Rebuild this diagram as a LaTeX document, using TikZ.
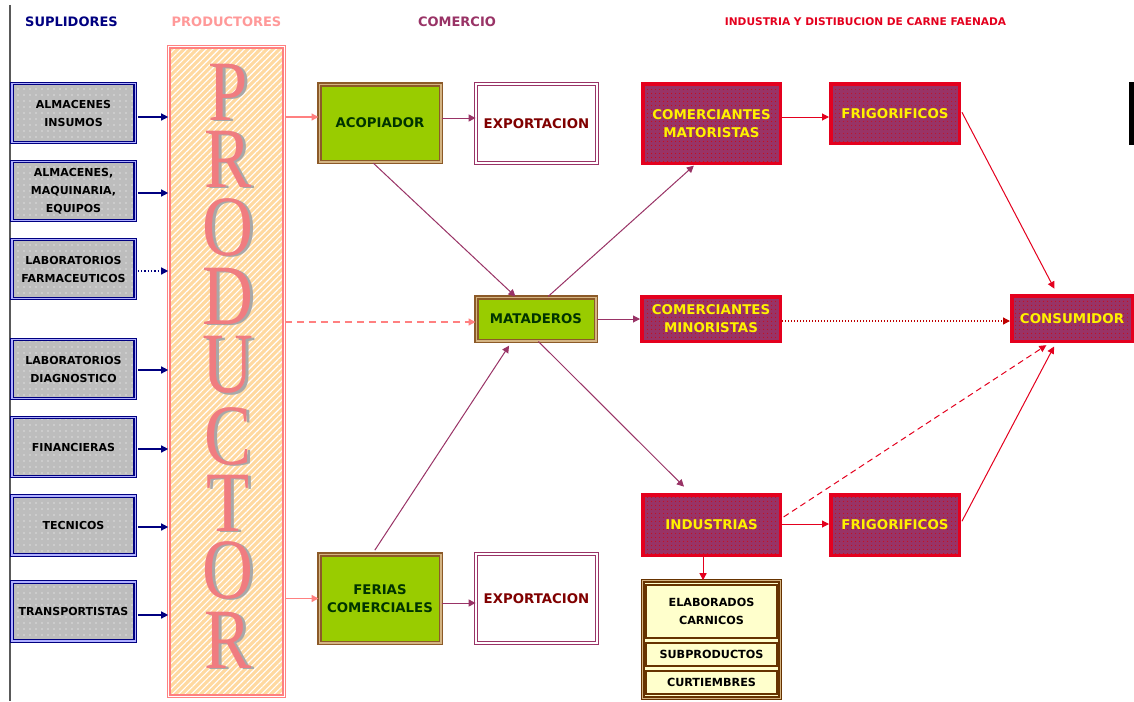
\documentclass[tikz,border=0pt]{standalone}
\usepackage{fontspec}
\setmainfont{DejaVu Sans}
\newfontfamily\serifL{Liberation Serif}
\usetikzlibrary{arrows.meta,patterns,patterns.meta,calc}
\definecolor{navy}{HTML}{000080}
\definecolor{supfill}{HTML}{BDBDBD}
\definecolor{lavb}{HTML}{B0B0FF}
\definecolor{salmon}{HTML}{FF8080}
\definecolor{peach}{HTML}{FFD9A0}
\definecolor{plum}{HTML}{993366}
\definecolor{limeg}{HTML}{99CC00}
\definecolor{brownb}{HTML}{8C5A28}
\definecolor{tanb}{HTML}{D4B483}
\definecolor{dgreen}{HTML}{003300}
\definecolor{maroonc}{HTML}{800000}
\definecolor{redb}{HTML}{E4001E}
\definecolor{cream}{HTML}{FFFFCC}
\definecolor{dbrown}{HTML}{663300}
\definecolor{pinkt}{HTML}{FF9999}
\definecolor{letpink}{HTML}{F07C80}
\definecolor{letgray}{HTML}{A8A8A8}
\newcommand{\plet}[1]{\rlap{\kern3pt\raisebox{-1.5pt}{\textcolor{letgray}{\scalebox{0.82}[1]{#1}}}}\textcolor{letpink}{\scalebox{0.82}[1]{#1}}}
\begin{document}
\begin{tikzpicture}[x=1pt,y=-1pt,
  title/.style={inner sep=0pt, font=\fontsize{13}{15}\selectfont\bfseries},
  sup/.style={draw=navy, double=lavb, double distance=1.2pt, line width=1.3pt,
    preaction={fill=supfill},
    preaction={pattern={Dots[distance=6pt,radius=0.55pt]}, pattern color=white},
    minimum width=123.2pt, minimum height=59pt, inner sep=0pt, align=center,
    font=\fontsize{11}{18}\selectfont\bfseries},
  prodbox/.style={draw=salmon, double=white, double distance=1.2pt, line width=1.2pt,
    preaction={fill=peach},
    preaction={pattern={Lines[angle=45,distance=4.5pt,line width=1.1pt]}, pattern color=white},
    minimum width=115.4pt, minimum height=649.4pt, inner sep=0pt},
  letter/.style={inner sep=0pt, font=\serifL\fontsize{86}{86}\selectfont},
  greenbox/.style={draw=brownb, double=tanb, double distance=1.5pt, line width=1.5pt,
    fill=limeg, text=dgreen, inner sep=0pt, align=center, minimum width=121.5pt,
    font=\fontsize{13.3}{18}\selectfont\bfseries},
  expbox/.style={draw=plum, double=white, double distance=2.2pt, line width=1pt,
    fill=white, text=maroonc, inner sep=0pt, align=center, minimum width=120.8pt,
    minimum height=88.8pt, font=\fontsize{13.3}{18}\selectfont\bfseries},
  redbox/.style={draw=redb, line width=3.5pt,
    preaction={fill=plum},
    preaction={pattern={Dots[distance=4pt,radius=0.6pt]}, pattern color=red!85!black},
    text=yellow, inner sep=0pt, align=center,
    font=\fontsize{13.4}{18}\selectfont\bfseries},
  prodout/.style={draw=dbrown, double=tanb, double distance=1.2pt, line width=1.2pt,
    fill=cream, inner sep=0pt},
  pinner/.style={draw=dbrown, line width=1.8pt, fill=cream, inner sep=0pt, align=center,
    minimum width=131.2pt, font=\fontsize{11.2}{18}\selectfont\bfseries},
  navyarr/.style={draw=navy, line width=1.3pt, -{Triangle[length=7pt,width=7pt]}},
  pinkarr/.style={draw=salmon, line width=1.3pt, -{Triangle[length=7pt,width=7pt]}},
  plumarr/.style={draw=plum, line width=1pt, -{Triangle[length=7pt,width=7pt]}},
  redarr/.style={draw=redb, line width=1pt, -{Triangle[length=7pt,width=7pt]}},
]
\useasboundingbox (0,0) rectangle (1134,701);
\fill[white] (0,0) rectangle (1134,701);
\draw[draw=gray!70!black, line width=2pt] (10,5) -- (10,701);

% titles
\node[title, text=navy] (tsup) at (71.5,22) {SUPLIDORES};
\node[title, text=pinkt] (tpro) at (226.5,22) {PRODUCTORES};
\node[title, text=plum] (tcom) at (457,22) {COMERCIO};
\node[title, text=redb, font=\fontsize{10.6}{13}\selectfont\bfseries] (tind) at (865.5,22) {INDUSTRIA Y DISTIBUCION DE CARNE FAENADA};

% suppliers
\node[sup] (s1) at (73.5,113) {ALMACENES\\INSUMOS};
\node[sup] (s2) at (73.5,191) {ALMACENES,\\MAQUINARIA,\\EQUIPOS};
\node[sup] (s3) at (73.5,269) {LABORATORIOS\\FARMACEUTICOS};
\node[sup] (s4) at (73.5,369) {LABORATORIOS\\DIAGNOSTICO};
\node[sup] (s5) at (73.5,447) {FINANCIERAS};
\node[sup] (s6) at (73.5,525.5) {TECNICOS};
\node[sup] (s7) at (73.5,611.5) {TRANSPORTISTAS};

% producer
\node[prodbox] (prod) at (226.5,371.5) {};
\foreach \L/\y [count=\i] in {P/93,R/160,O/228,D/297,U/366,C/437,T/504,O/571,R/641} {
  \node[letter] (l\i) at (228,\y) {\plet{\L}};
}

% commerce
\node[greenbox, minimum height=77.5pt] (acop) at (380,123) {ACOPIADOR};
\node[expbox, minimum height=78.8pt] (exp1) at (536.5,123.5) {EXPORTACION};
\node[greenbox, minimum height=43.5pt, minimum width=119.5pt] (mat) at (536,319) {MATADEROS};
\node[greenbox, minimum height=88.5pt] (fer) at (380,598.5) {FERIAS\\COMERCIALES};
\node[expbox] (exp2) at (536.5,598.5) {EXPORTACION};

% industry
\node[redbox, minimum width=137.5pt, minimum height=79.5pt] (may) at (711.5,123.5) {COMERCIANTES\\MATORISTAS};
\node[redbox, minimum width=128.5pt, minimum height=59.5pt] (frt) at (895,113.5) {FRIGORIFICOS};
\node[redbox, minimum width=138.5pt, minimum height=44.5pt] (min) at (711,319) {COMERCIANTES\\MINORISTAS};
\node[redbox, minimum width=120.5pt, minimum height=45.5pt] (cons) at (1072,318.5) {CONSUMIDOR};
\node[redbox, minimum width=137.5pt, minimum height=60.5pt] (ind) at (711.5,525) {INDUSTRIAS};
\node[redbox, minimum width=128.5pt, minimum height=60.5pt] (frb) at (895,525) {FRIGORIFICOS};
\node[fill=black, inner sep=0pt, minimum width=5pt, minimum height=63pt] (bar) at (1131.5,113.5) {};

% products
\node[prodout, minimum width=137.4pt, minimum height=117.4pt] (pbox) at (711.5,639.5) {};
\node[pinner, minimum height=53.2pt] (elab) at (711.5,611.5) {ELABORADOS\\CARNICOS};
\node[pinner, minimum height=23.2pt] (sub) at (711.5,654.5) {SUBPRODUCTOS};
\node[pinner, minimum height=23.2pt] (curt) at (711.5,682.5) {CURTIEMBRES};

% supplier arrows
\foreach \s/\d in {s1/-4,s2/-2,s4/-1,s5/-2,s6/-1.5,s7/-3.5}
  \draw[navyarr, shorten <=2pt] ([yshift=\d pt]\s.east) -- ([yshift=\d pt]\s.east -| prod.west);
\draw[navyarr, dotted, shorten <=2pt] ([yshift=-2pt]s3.east) -- ([yshift=-2pt]s3.east -| prod.west);

% producer arrows
\draw[pinkarr] ([yshift=6pt]acop.west -| prod.east) -- ([yshift=6pt]acop.west);
\draw[pinkarr, dash pattern=on 7pt off 5pt] ([yshift=-3pt]mat.west -| prod.east) -- ([yshift=-3pt]mat.west);
\draw[pinkarr] (fer.west -| prod.east) -- (fer.west);

% commerce arrows
\draw[plumarr] ([yshift=5pt]acop.east) -- ([yshift=5pt]acop.east -| exp1.west);
\draw[plumarr] ([yshift=-4.5pt]fer.east) -- ([yshift=-4.5pt]fer.east -| exp2.west);
\draw[plumarr] (mat.east) -- (mat.east -| min.west);
\draw[plumarr, shorten <=1pt] ($(acop.south west)!0.44!(acop.south east)$) -- ($(mat.north west)!0.33!(mat.north east)$);
\draw[plumarr, shorten <=4pt, shorten >=5pt] ($(fer.north west)!0.44!(fer.north east)$) -- ($(mat.south west)!0.3!(mat.south east)$);
\draw[plumarr, shorten >=1pt] ($(mat.north west)!0.6!(mat.north east)$) -- ($(may.south west)!0.38!(may.south east)$);
\draw[plumarr, shorten >=9pt] ($(mat.south west)!0.52!(mat.south east)$) -- ($(ind.north west)!0.35!(ind.north east)$);

% industry arrows
\coordinate (indb) at ($(ind.south west)!0.44!(ind.south east)$);
\draw[redarr] ([yshift=6.5pt]may.east) -- ([yshift=6.5pt]may.east -| frt.west);
\draw[redarr] ([yshift=1pt]ind.east) -- ([yshift=1pt]ind.east -| frb.west);
\draw[redarr] (indb) -- (indb |- pbox.north);
\draw[redarr, dotted, line width=1.3pt, draw=red!75!black] ([yshift=-2pt]min.east) -- ([yshift=-2pt]min.east -| cons.west);
\draw[redarr, shorten <=2pt, shorten >=6pt] ([yshift=3pt]frt.east) -- ($(cons.north west)!0.38!(cons.north east)$);
\draw[redarr, dash pattern=on 6pt off 4pt, shorten <=2pt, shorten >=4pt] ([yshift=7pt]ind.east) -- ($(cons.south west)!0.32!(cons.south east)$);
\draw[redarr, shorten <=2pt, shorten >=4pt] ([yshift=2pt]frb.east) -- ($(cons.south west)!0.37!(cons.south east)$);
\end{tikzpicture}
\end{document}
